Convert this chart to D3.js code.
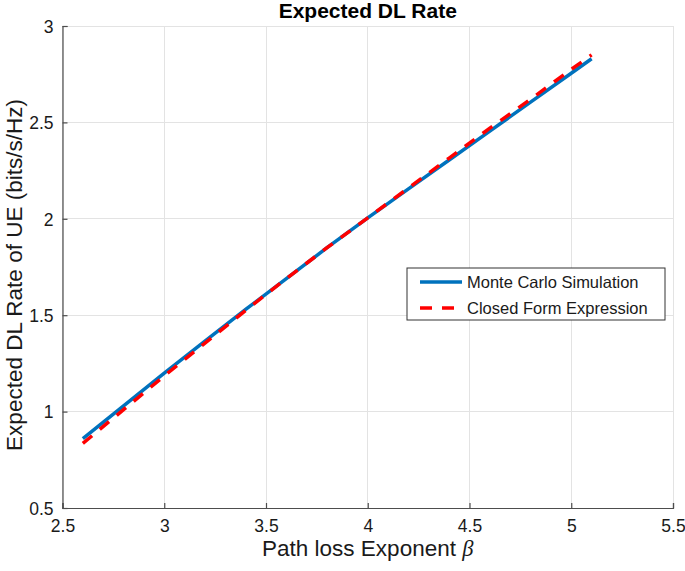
<!DOCTYPE html>
<html>
<head>
<meta charset="utf-8">
<script src="https://cdn.jsdelivr.net/npm/d3@7"></script>
<style>
  html, body { margin: 0; padding: 0; background: #fff; }
  svg { display: block; font-family: "Liberation Sans", Arial, Helvetica, sans-serif; }
</style>
</head>
<body>
<svg id="chart" width="685" height="571"></svg>
<script>
// ---- data ----
const beta = [2.6, 2.8, 3.0, 3.2, 3.4, 3.6, 3.8, 4.0, 4.2, 4.4, 4.6, 4.8, 5.0, 5.1];
const monteCarlo = [0.86, 1.03, 1.20, 1.365, 1.53, 1.69, 1.85, 2.005, 2.155, 2.305, 2.455, 2.605, 2.755, 2.83];
const closedForm = [0.835, 1.01, 1.185, 1.355, 1.525, 1.69, 1.85, 2.005, 2.16, 2.315, 2.47, 2.62, 2.775, 2.85];
const xTicks = [2.5, 3, 3.5, 4, 4.5, 5, 5.5];
const yTicks = [0.5, 1, 1.5, 2, 2.5, 3];
const seriesNames = ["Monte Carlo Simulation", "Closed Form Expression"];
const titleText = "Expected DL Rate";
const xLabelText = "Path loss Exponent ";
const yLabelText = "Expected DL Rate of UE (bits/s/Hz)";

// ---- layout ----
const svg = d3.select("#chart");
const L = 62.5, R = 673, T = 26, B = 508;
const x = d3.scaleLinear().domain([2.5, 5.5]).range([L, R]);
const y = d3.scaleLinear().domain([0.5, 3]).range([B, T]);

// grid
const grid = svg.append("g");
grid.selectAll("line.gx").data(xTicks).join("line")
  .attr("x1", d => x(d)).attr("x2", d => x(d)).attr("y1", T).attr("y2", B)
  .attr("stroke", "#e3e3e3").attr("stroke-width", 1).attr("shape-rendering", "crispEdges");
grid.selectAll("line.gy").data(yTicks).join("line")
  .attr("x1", L).attr("x2", R).attr("y1", d => y(d)).attr("y2", d => y(d))
  .attr("stroke", "#e3e3e3").attr("stroke-width", 1).attr("shape-rendering", "crispEdges");

// axes
const axColor = "#4d4d4d";
const xAxis = svg.append("g").attr("transform", `translate(0,${B})`)
  .call(d3.axisBottom(x).tickValues(xTicks).tickSize(-5).tickPadding(12).tickFormat(d3.format("")));
const yAxis = svg.append("g").attr("transform", `translate(${L},0)`)
  .call(d3.axisLeft(y).tickValues(yTicks).tickSize(-5).tickPadding(9).tickFormat(d3.format("")));
[xAxis, yAxis].forEach(g => {
  g.select(".domain").attr("stroke", axColor).attr("stroke-width", 1.2);
  g.selectAll(".tick line").attr("stroke", axColor).attr("stroke-width", 1.2);
  g.selectAll(".tick text").attr("fill", "#1a1a1a").attr("font-size", 17.5)
    .attr("font-family", "Liberation Sans, Arial, sans-serif");
});
xAxis.selectAll(".tick text").attr("dy", "0.71em");
yAxis.selectAll(".tick text").attr("dy", "0.36em");

// lines
const line = d3.line().x((d, i) => x(beta[i])).y(d => y(d));
svg.append("path").datum(monteCarlo).attr("d", line)
  .attr("fill", "none").attr("stroke", "#0072BD").attr("stroke-width", 3.5);
svg.append("path").datum(closedForm).attr("d", line)
  .attr("fill", "none").attr("stroke", "#FF0000").attr("stroke-width", 3.5)
  .attr("stroke-dasharray", "12,10");

// title
svg.append("text").attr("x", (L + R) / 2).attr("y", 18).attr("text-anchor", "middle")
  .attr("font-size", 21).attr("font-weight", "bold").attr("fill", "#000").text(titleText);

// x label
const xl = svg.append("text").attr("x", (L + R) / 2).attr("y", 556).attr("text-anchor", "middle")
  .attr("font-size", 22.5).attr("fill", "#1a1a1a");
xl.append("tspan").text(xLabelText);
xl.append("tspan").attr("font-family", "Liberation Serif, Times New Roman, serif")
  .attr("font-style", "italic").text("β");

// y label
svg.append("text").attr("transform", `translate(22,${(T + B) / 2 + 8}) rotate(-90)`)
  .attr("text-anchor", "middle").attr("font-size", 22.5).attr("fill", "#1a1a1a").text(yLabelText);

// legend
const lg = svg.append("g");
lg.append("rect").attr("x", 407).attr("y", 268).attr("width", 258).attr("height", 52)
  .attr("fill", "#fff").attr("stroke", "#333").attr("stroke-width", 1);
const colors = ["#0072BD", "#FF0000"];
const dashes = [null, "12,10"];
seriesNames.forEach((name, i) => {
  const cy = 282 + i * 26;
  lg.append("line").attr("x1", 420).attr("x2", 462).attr("y1", cy).attr("y2", cy)
    .attr("stroke", colors[i]).attr("stroke-width", 3.5).attr("stroke-dasharray", dashes[i]);
  lg.append("text").attr("x", 467).attr("y", cy).attr("dy", "0.36em")
    .attr("font-size", 16.5).attr("fill", "#1a1a1a").text(name);
});
</script>
</body>
</html>
